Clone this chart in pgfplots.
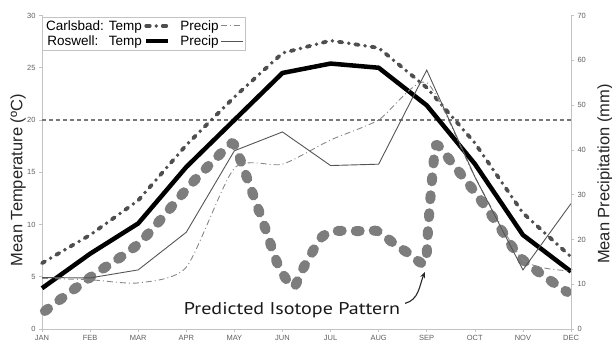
\documentclass[border=0pt]{standalone}
\usepackage{fontspec}
\usepackage{calc}
\setmainfont{Liberation Sans}
\newfontfamily\isofont[FakeStretch=1.18]{PT Sans}
\usepackage{pgfplots}
\pgfplotsset{compat=1.18}
\usetikzlibrary{arrows.meta}
\definecolor{axgray}{RGB}{195,195,195}
\definecolor{tickgray}{RGB}{95,95,95}
\definecolor{carlsT}{RGB}{78,78,78}
\definecolor{isogray}{RGB}{125,125,125}
\definecolor{rosP}{RGB}{85,85,85}
\definecolor{carlsP}{RGB}{135,135,135}
\definecolor{refgray}{RGB}{120,120,120}
\begin{document}
\begin{tikzpicture}
\useasboundingbox (-42pt,-19pt) rectangle (570pt,329pt);
\pgfplotsset{
  carlsTstyle/.style={carlsT, line width=3.8pt, line cap=round, dash pattern=on 3.5pt off 6.5pt on 0pt off 6.5pt},
  rosTstyle/.style={black, line width=4.5pt, line join=round},
  carlsPstyle/.style={carlsP, line width=0.9pt, dash pattern=on 6pt off 3pt on 1pt off 3pt},
  rosPstyle/.style={rosP, line width=0.9pt},
}
\begin{axis}[
  at={(0pt,0pt)}, anchor=south west,
  scale only axis, width=529pt, height=313.5pt,
  xmin=0, xmax=11, ymin=0, ymax=30,
  clip=false,
  axis x line*=bottom, axis y line*=left,
  axis line style={draw=axgray, line width=0.6pt, -},
  xtick={0,...,11},
  xticklabels={JAN,FEB,MAR,APR,MAY,JUN,JUL,AUG,SEP,OCT,NOV,DEC},
  ytick={0,5,...,30},
  tick style={draw=axgray, line width=0.6pt},
  major tick length=3pt, tick align=outside,
  ticklabel style={font=\fontsize{7.5}{8}\selectfont, text=tickgray},
  /pgf/number format/assume math mode=true,
  ylabel={Mean Temperature (ºC)},
  ylabel style={at={(axis description cs:-0.0454,0.475)}, anchor=center, font=\fontsize{16.5}{18}\selectfont, text=black!85},
]
% predicted isotope pattern
\addplot[isogray, line width=10pt, line cap=round, line join=round, dash pattern=on 4pt off 14pt, smooth, tension=0.45] coordinates {
(0.06,1.72) (1.04,5.07) (2.02,8.22) (3.08,13.77) (3.64,16.44) (3.95,17.78) (4.08,16.73)
(4.37,13.10) (4.64,9.66) (4.91,6.12) (5.22,4.02) (5.41,5.64) (5.82,8.80) (6.13,9.37)
(6.55,9.37) (6.97,9.37) (7.28,8.32) (7.61,7.27) (7.96,6.31) (8.03,9.75) (8.09,13.29)
(8.17,17.11) (8.23,17.59) (8.48,16.16) (9.00,13.10) (9.46,10.13) (9.94,6.88) (10.56,4.68) (10.92,3.54)};
% 20 C reference line
\addplot[refgray, line width=1.1pt, dash pattern=on 4pt off 3pt] coordinates {(0,20) (11,20)};
% Carlsbad temp
\addplot[carlsTstyle] coordinates {
(0,6.3) (1,9.0) (2,12.3) (3,17.6) (4,22.2) (5,26.4) (6,27.6) (7,26.9) (8,23.1) (9,17.8) (10,11.1) (11,6.9)};
% Roswell temp
\addplot[rosTstyle] coordinates {
(0,3.9) (1,7.2) (2,10.1) (3,15.5) (4,20.0) (5,24.5) (6,25.4) (7,25.0) (8,21.4) (9,15.8) (10,9.0) (11,5.5)};
\node[font=\isofont\fontsize{17}{20}\selectfont, text=black!90] at (axis cs:5.2,1.8) {Predicted Isotope Pattern};
\draw[-{Stealth[length=6pt,width=5pt]}, line width=1.1pt, black!85] (axis cs:7.55,2.45) to[out=15,in=-112] (axis cs:7.96,5.45);
\end{axis}
\begin{axis}[
  at={(0pt,0pt)}, anchor=south west,
  scale only axis, width=529pt, height=313.5pt,
  xmin=0, xmax=11, ymin=0, ymax=70,
  axis y line*=right, axis x line=none,
  axis line style={draw=axgray, line width=0.6pt, -},
  ytick={0,10,...,70},
  tick style={draw=axgray, line width=0.6pt},
  major tick length=3pt, tick align=outside,
  ticklabel style={font=\fontsize{7.5}{8}\selectfont, text=tickgray},
  /pgf/number format/assume math mode=true,
  ylabel={Mean Precipitation (mm)},
  ylabel style={at={(axis description cs:1.0643,0.494)}, anchor=center, font=\fontsize{16.5}{18}\selectfont, text=black!85},
  legend plot pos=right,
  legend columns=2,
  legend cell align=right,
  legend image code/.code={\draw[#1] (0pt,0pt) -- (22pt,0pt);},
  legend style={at={(axis description cs:0,0.995)}, anchor=north west, draw=axgray, fill=white,
    font=\fontsize{13.5}{15}\selectfont, inner xsep=2pt, inner ysep=1pt,
    /tikz/every even column/.append style={column sep=8pt}},
]
\addlegendimage{carlsTstyle}
\addlegendentry{Carlsbad: Temp}
\addplot[carlsPstyle, smooth, tension=0.4] coordinates {
(0,11.3) (1,11.0) (2,10.3) (3,13.8) (4,35.9) (5,36.8) (6,42.2) (7,46.7) (8,55.0) (9,34.0) (10,15.5) (11,13.0)};
\addlegendentry{Precip}
\addlegendimage{rosTstyle}
\addlegendentry{\makebox[\widthof{Carlsbad:}][l]{Roswell:} Temp}
\addplot[rosPstyle] coordinates {
(0,11.5) (1,11.4) (2,13.2) (3,21.6) (4,39.8) (5,44.0) (6,36.5) (7,36.8) (8,57.8) (9,34.0) (10,13.2) (11,28.0)};
\addlegendentry{Precip}
\end{axis}
\end{tikzpicture}
\end{document}
